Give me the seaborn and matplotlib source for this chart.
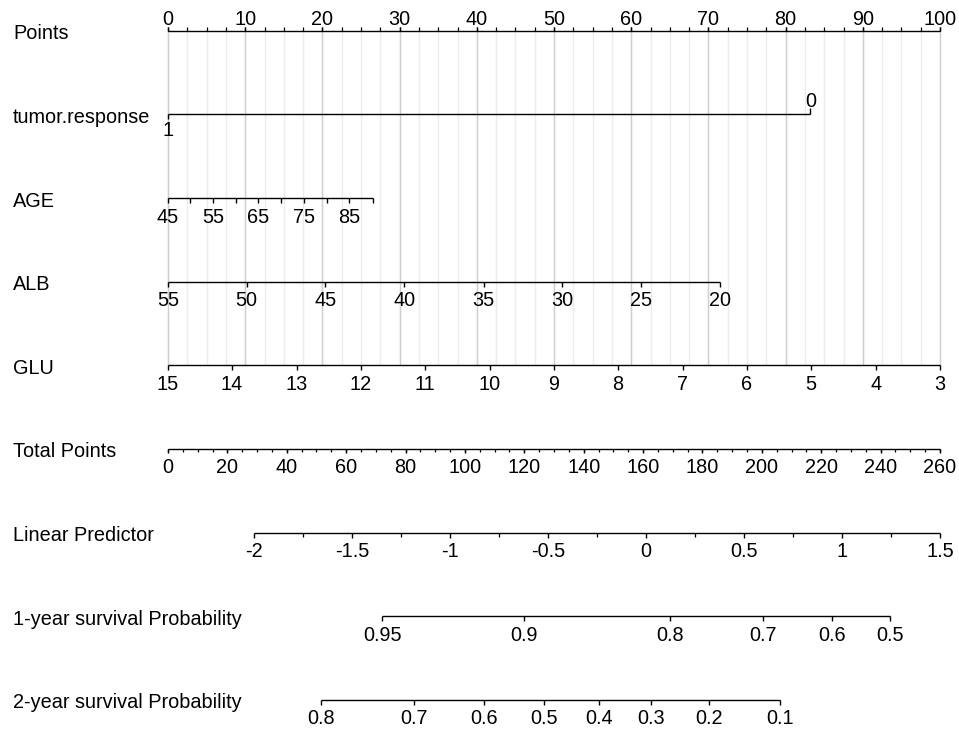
import numpy as np
import matplotlib
matplotlib.use("Agg")
import matplotlib.pyplot as plt
import seaborn as sns

sns.set_theme(style="white")
plt.rcParams['font.family'] = ['Liberation Sans', 'DejaVu Sans']
plt.rcParams['text.color'] = 'black'

# --- nomogram data ---
row_names = ['Points', 'tumor.response', 'AGE', 'ALB', 'GLU', 'Total Points',
             'Linear Predictor', '1-year survival Probability', '2-year survival Probability']

tumor_levels = ['1', '0']
tumor_points = [0, 83.2]

age_values = [45, 50, 55, 60, 65, 70, 75, 80, 85, 90]
age_points = [0, 2.9, 5.8, 8.8, 11.7, 14.7, 17.6, 20.6, 23.5, 26.5]
age_labels = ['45', '', '55', '', '65', '', '75', '', '85', '']

alb_values = [55, 50, 45, 40, 35, 30, 25, 20]
alb_points = [0, 10.2, 20.4, 30.6, 40.9, 51.1, 61.3, 71.5]

glu_values = [15, 14, 13, 12, 11, 10, 9, 8, 7, 6, 5, 4, 3]
glu_points = [0, 8.3, 16.7, 25.0, 33.3, 41.7, 50.0, 58.3, 66.7, 75.0, 83.3, 91.7, 100]

total_max = 260
lp_values = ['-2', '-1.5', '-1', '-0.5', '0', '0.5', '1', '1.5']
lp_total = [29.1, 62.1, 95.1, 128.1, 161.0, 194.0, 227.0, 260.0]

surv1_values = ['0.95', '0.9', '0.8', '0.7', '0.6', '0.5']
surv1_total = [72.1, 119.9, 169.1, 200.4, 223.6, 243.2]

surv2_values = ['0.8', '0.7', '0.6', '0.5', '0.4', '0.3', '0.2', '0.1']
surv2_total = [51.4, 82.9, 106.4, 126.6, 145.1, 162.8, 182.3, 206.0]

# --- layout ---
W, H = 959, 732
x0, x1 = 168, 940                 # pixel span of 0..100 points
px = (x1 - x0) / 100.0
row_y = [30.7 + 83.66 * i for i in range(len(row_names))]
fs = 14.3

fig = plt.figure(figsize=(W / 100, H / 100), dpi=100)
ax = fig.add_axes([0, 0, 1, 1])
ax.set_xlim(-x0 / px, (W - x0) / px)
ax.set_ylim(H, 0)
ax.axis('off')


def tp(v):
    # total points -> points scale
    return np.asarray(v, dtype=float) * 100.0 / total_max


def scale(y, pos, labels, down=True, tick=5, minor=None, minor_len=3):
    pos = np.asarray(pos, dtype=float)
    ax.hlines(y, pos.min(), pos.max(), color='black', lw=1.0, zorder=3)
    sgn = 1 if down else -1
    ax.vlines(pos, y, y + sgn * tick, color='black', lw=1.0, zorder=3)
    if minor is not None:
        ax.vlines(minor, y, y + sgn * minor_len, color='black', lw=0.9, zorder=3)
    for p, lab in zip(pos, labels):
        if lab == '':
            continue
        if down:
            ax.text(p, y + 24.5, lab, ha='center', va='baseline', fontsize=fs)
        else:
            ax.text(p, y - 5.5, lab, ha='center', va='baseline', fontsize=fs)


# row titles
for name, y in zip(row_names, row_y):
    ax.text((13 - x0) / px, y + 8.5, name, ha='left', va='baseline', fontsize=fs)

# background grid down to the GLU row
grid_minor = np.arange(0, 100.01, 2.5)
grid_major = np.arange(0, 100.01, 10)
ax.vlines(grid_minor, row_y[0], row_y[4], color='#ececec', lw=1.0, zorder=0)
ax.vlines(grid_major, row_y[0], row_y[4], color='#cfcfcf', lw=1.0, zorder=1)

# Points
scale(row_y[0], grid_major, [str(int(v)) for v in grid_major], down=False, tick=4,
      minor=grid_minor, minor_len=4)

# tumor.response: '1' below at left, '0' above at right
y = row_y[1]
ax.hlines(y, tumor_points[0], tumor_points[1], color='black', lw=1.0, zorder=3)
ax.vlines(tumor_points[0], y, y + 5, color='black', lw=1.0, zorder=3)
ax.vlines(tumor_points[1], y, y - 6, color='black', lw=1.0, zorder=3)
ax.text(tumor_points[0], y + 22, tumor_levels[0], ha='center', va='baseline', fontsize=fs)
ax.text(tumor_points[1], y - 7, tumor_levels[1], ha='center', va='baseline', fontsize=fs)

# AGE, ALB, GLU
scale(row_y[2], age_points, age_labels)
scale(row_y[3], alb_points, [str(v) for v in alb_values])
scale(row_y[4], glu_points, [str(v) for v in glu_values])

# Total Points
tot_major = np.arange(0, total_max + 1, 20)
tot_minor = np.arange(0, total_max + 1, 5)
scale(row_y[5], tp(tot_major), [str(v) for v in tot_major], tick=4,
      minor=tp(tot_minor), minor_len=3)

# Linear Predictor
lp_pos = tp(lp_total)
lp_minor = (lp_pos[:-1] + lp_pos[1:]) / 2
scale(row_y[6], lp_pos, lp_values, minor=lp_minor, minor_len=4)

# survival probabilities
scale(row_y[7], tp(surv1_total), surv1_values)
scale(row_y[8], tp(surv2_total), surv2_values)

fig.savefig('out.png', dpi=100, facecolor='white')
